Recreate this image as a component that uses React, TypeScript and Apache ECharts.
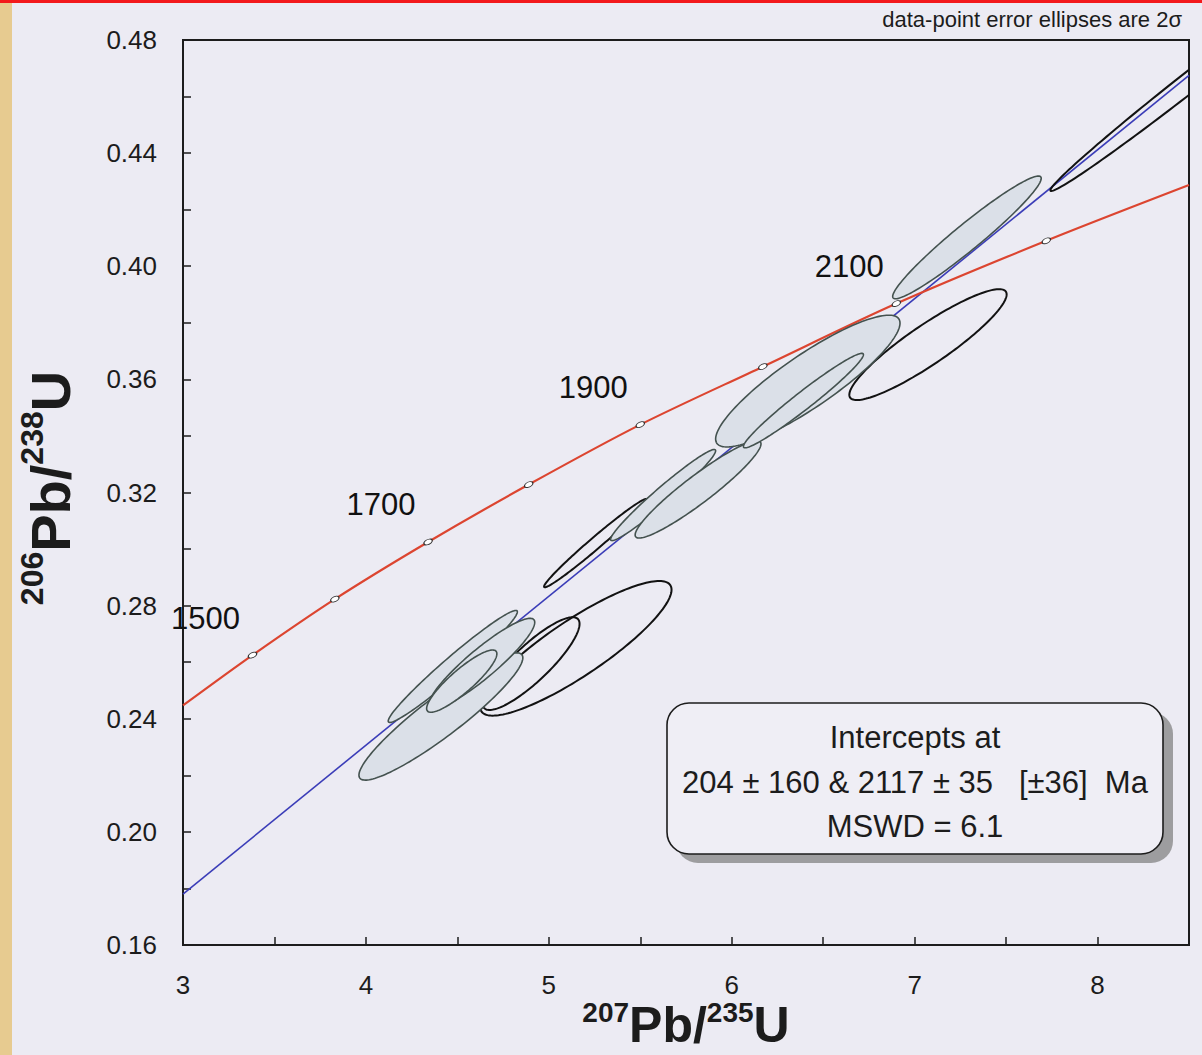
import React, { useEffect, useRef } from "react";
import * as echarts from "echarts";

const FONT = "'Liberation Sans', Arial, Helvetica, sans-serif";

// axes
const xMin = 3;
const xMax = 8.5;
const xStep = 0.5;
const yMin = 0.16;
const yMax = 0.48;
const yStep = 0.02;

// concordia curve (207Pb/235U, 206Pb/238U) read at the age marks, plus the two ends
const concordiaX = [3.0, 3.38, 3.83, 4.34, 4.89, 5.5, 6.17, 6.9, 7.72, 8.5];
const concordiaY = [0.2447, 0.2625, 0.2823, 0.3025, 0.3228, 0.344, 0.3645, 0.3868, 0.409, 0.4287];
const concordiaAge = [0, 1500, 1600, 1700, 1800, 1900, 2000, 2100, 2200, 0];
const labelledAges = [1500, 1700, 1900, 2100];

// discordia (regression line)
const discordiaX = [3.0, 8.5];
const discordiaY = [0.178, 0.4675];

// 2-sigma error ellipses: centre, half-widths, error correlation; filled = grey
const ellipseX = [8.545, 7.073, 5.255, 5.148, 4.903, 5.625, 5.816, 6.416, 6.392, 7.286, 4.41, 4.475, 4.633, 4.524];
const ellipseY = [0.4673, 0.3723, 0.3021, 0.2649, 0.2595, 0.3191, 0.3211, 0.3594, 0.3525, 0.4102, 0.2408, 0.2585, 0.2595, 0.2533];
const ellipseSX = [0.803, 0.43, 0.281, 0.523, 0.265, 0.287, 0.344, 0.504, 0.328, 0.406, 0.448, 0.353, 0.29, 0.192];
const ellipseSY = [0.0407, 0.0196, 0.0156, 0.0238, 0.0164, 0.0161, 0.0172, 0.0233, 0.0167, 0.0217, 0.0225, 0.0198, 0.016, 0.011];
const ellipseRho = [0.994, 0.905, 0.985, 0.87, 0.857, 0.9725, 0.936, 0.879, 0.972, 0.962, 0.922, 0.975, 0.912, 0.88];
const ellipseFilled = [0, 0, 0, 0, 0, 1, 1, 1, 1, 1, 1, 1, 1, 1];

const noteText = "data-point error ellipses are 2σ";
const boxLines = ["Intercepts at", "204 ± 160 & 2117 ± 35   [±36]  Ma", "MSWD = 6.1"];
// axis titles: [text, isSuperscript]
const xTitleParts: [string, boolean][] = [["207", true], ["Pb/", false], ["235", true], ["U", false]];
const yTitleParts: [string, boolean][] = [["206", true], ["Pb/", false], ["238", true], ["U", false]];

const BG = "#ecebf3";
const INK = "#1c1c1c";

function ellipseData(filled: number) {
  const out: number[][] = [];
  for (let i = 0; i < ellipseX.length; i++) {
    if (ellipseFilled[i] === filled) {
      out.push([ellipseX[i], ellipseY[i], ellipseSX[i], ellipseSY[i], ellipseRho[i]]);
    }
  }
  return out;
}

function makeRenderer(filled: boolean) {
  return (params: any, api: any) => {
    const cx = api.value(0);
    const cy = api.value(1);
    const sx = api.value(2);
    const sy = api.value(3);
    const r = api.value(4);
    const k = Math.sqrt(Math.max(0, 1 - r * r));
    const pts: number[][] = [];
    const n = 160;
    for (let j = 0; j < n; j++) {
      const t = (j / n) * Math.PI * 2;
      pts.push(api.coord([cx + sx * Math.cos(t), cy + sy * (r * Math.cos(t) + k * Math.sin(t))]));
    }
    return {
      type: "polygon",
      shape: { points: pts },
      style: {
        fill: filled ? "#dbe0e8" : "none",
        stroke: filled ? "#44524f" : "#121212",
        lineWidth: filled ? 1.6 : 2,
      },
    };
  };
}

// bold title pieces with superscripts, laid along a line (Arial bold advance widths)
function titleElements(
  parts: [string, boolean][],
  cx: number,
  cy: number,
  vertical: boolean,
  big: number,
  sup: number,
  raise: number
) {
  const measured = parts.map(([t, isSup]) => {
    const size = isSup ? sup : big;
    let w = 0;
    for (const ch of t) {
      if (/[0-9]/.test(ch)) w += 0.556;
      else if (ch === "P") w += 0.667;
      else if (ch === "b") w += 0.611;
      else if (ch === "/") w += 0.278;
      else if (ch === "U") w += 0.722;
      else w += 0.6;
    }
    return w * size;
  });
  const total = measured.reduce((a, b) => a + b, 0);
  let pos = -total / 2;
  return parts.map(([t, isSup], i) => {
    const size = isSup ? sup : big;
    const off = pos;
    pos += measured[i];
    const lift = isSup ? -raise : 0;
    return {
      type: "text",
      x: vertical ? cx + lift : cx + off,
      y: vertical ? cy - off : cy + lift,
      rotation: vertical ? Math.PI / 2 : 0,
      style: {
        text: t,
        fontSize: size,
        fontWeight: "bold",
        fontFamily: FONT,
        fill: INK,
        align: "left",
        verticalAlign: "middle",
      },
      z: 100,
    };
  });
}

export default function App() {
  const ref = useRef<HTMLDivElement>(null);

  useEffect(() => {
    document.body.style.margin = "0";
    document.body.style.background = BG;
    if (!ref.current) return;
    const chart = echarts.init(ref.current, undefined, { renderer: "svg" });

    const markerData = [];
    for (let i = 0; i < concordiaAge.length; i++) {
      if (!concordiaAge[i]) continue;
      const lab = labelledAges.indexOf(concordiaAge[i]) >= 0;
      markerData.push({
        value: [concordiaX[i], concordiaY[i]],
        age: concordiaAge[i],
        label: { show: lab },
      });
    }

    const option: any = {
      animation: false,
      backgroundColor: BG,
      grid: {
        left: 183,
        top: 40,
        width: 1006,
        height: 905,
        show: true,
        borderColor: INK,
        borderWidth: 2,
        backgroundColor: "transparent",
      },
      xAxis: {
        type: "value",
        min: xMin,
        max: xMax,
        interval: xStep,
        axisLine: { lineStyle: { color: INK, width: 2 } },
        axisTick: { inside: true, length: 8, lineStyle: { color: INK, width: 1.5 } },
        splitLine: { show: false },
        axisLabel: {
          margin: 27,
          fontSize: 26,
          fontFamily: FONT,
          color: INK,
          formatter: (v: number) => (Math.abs(v - Math.round(v)) < 1e-6 && v < 8.4 ? String(Math.round(v)) : ""),
        },
      },
      yAxis: {
        type: "value",
        min: yMin,
        max: yMax,
        interval: yStep,
        axisLine: { lineStyle: { color: INK, width: 2 } },
        axisTick: { inside: true, length: 8, lineStyle: { color: INK, width: 1.5 } },
        splitLine: { show: false },
        axisLabel: {
          margin: 26,
          fontSize: 26,
          fontFamily: FONT,
          color: INK,
          formatter: (v: number) => (Math.round(v * 100) % 4 === 0 ? v.toFixed(2) : ""),
        },
      },
      series: [
        {
          type: "line",
          data: discordiaX.map((x, i) => [x, discordiaY[i]]),
          showSymbol: false,
          lineStyle: { color: "#3b3db8", width: 1.6 },
          z: 2,
          silent: true,
        },
        {
          type: "line",
          data: concordiaX.map((x, i) => [x, concordiaY[i]]),
          smooth: 0.3,
          showSymbol: false,
          lineStyle: { color: "#dc4530", width: 2.2 },
          z: 2,
          silent: true,
        },
        {
          type: "custom",
          data: ellipseData(0),
          encode: { x: 0, y: 1 },
          renderItem: makeRenderer(false),
          clip: true,
          z: 3,
          silent: true,
        },
        {
          type: "custom",
          data: ellipseData(1),
          encode: { x: 0, y: 1 },
          renderItem: makeRenderer(true),
          clip: true,
          z: 4,
          silent: true,
        },
        {
          type: "scatter",
          data: markerData,
          symbol: "circle",
          symbolSize: [9, 5],
          symbolRotate: 25,
          itemStyle: { color: "#ffffff", borderColor: "#333333", borderWidth: 1, opacity: 1 },
          z: 5,
          silent: true,
          label: {
            show: false,
            position: "inside",
            offset: [-47, -37],
            fontSize: 31,
            fontFamily: FONT,
            color: "#111111",
            opacity: 1,
            textBorderWidth: 0,
            textBorderColor: "transparent",
            formatter: (p: any) => String(p.data.age),
          },
        },
      ],
      graphic: [
        { type: "rect", shape: { x: 0, y: 0, width: 1202, height: 3 }, style: { fill: "#f3191c" }, z: 100 },
        { type: "rect", shape: { x: 0, y: 3, width: 12, height: 1052 }, style: { fill: "#e7cb90" }, z: 100 },
        {
          type: "text",
          x: 1182,
          y: 19,
          style: { text: noteText, fontSize: 22, fontFamily: FONT, fill: INK, align: "right", verticalAlign: "middle" },
          z: 100,
        },
        {
          type: "rect",
          shape: { x: 676, y: 712, width: 497, height: 151, r: 22 },
          style: { fill: "#9d9d9f" },
          z: 100,
        },
        {
          type: "rect",
          shape: { x: 667, y: 703, width: 496, height: 151, r: 22 },
          style: { fill: "#efeef5", stroke: INK, lineWidth: 1.6 },
          z: 101,
        },
        ...boxLines.map((t, i) => ({
          type: "text",
          x: 915,
          y: [737, 782, 826][i],
          style: { text: t, fontSize: 31, fontFamily: FONT, fill: INK, align: "center", verticalAlign: "middle" },
          z: 102,
        })),
        ...titleElements(xTitleParts, 686, 1025, false, 50, 28, 13),
        ...titleElements(yTitleParts, 50, 488, true, 56, 32, 18),
      ],
    };

    chart.setOption(option);
    return () => chart.dispose();
  }, []);

  return (
    <div
      ref={ref}
      style={{ position: "absolute", left: 0, top: 0, width: 1202, height: 1055, background: BG }}
    />
  );
}
